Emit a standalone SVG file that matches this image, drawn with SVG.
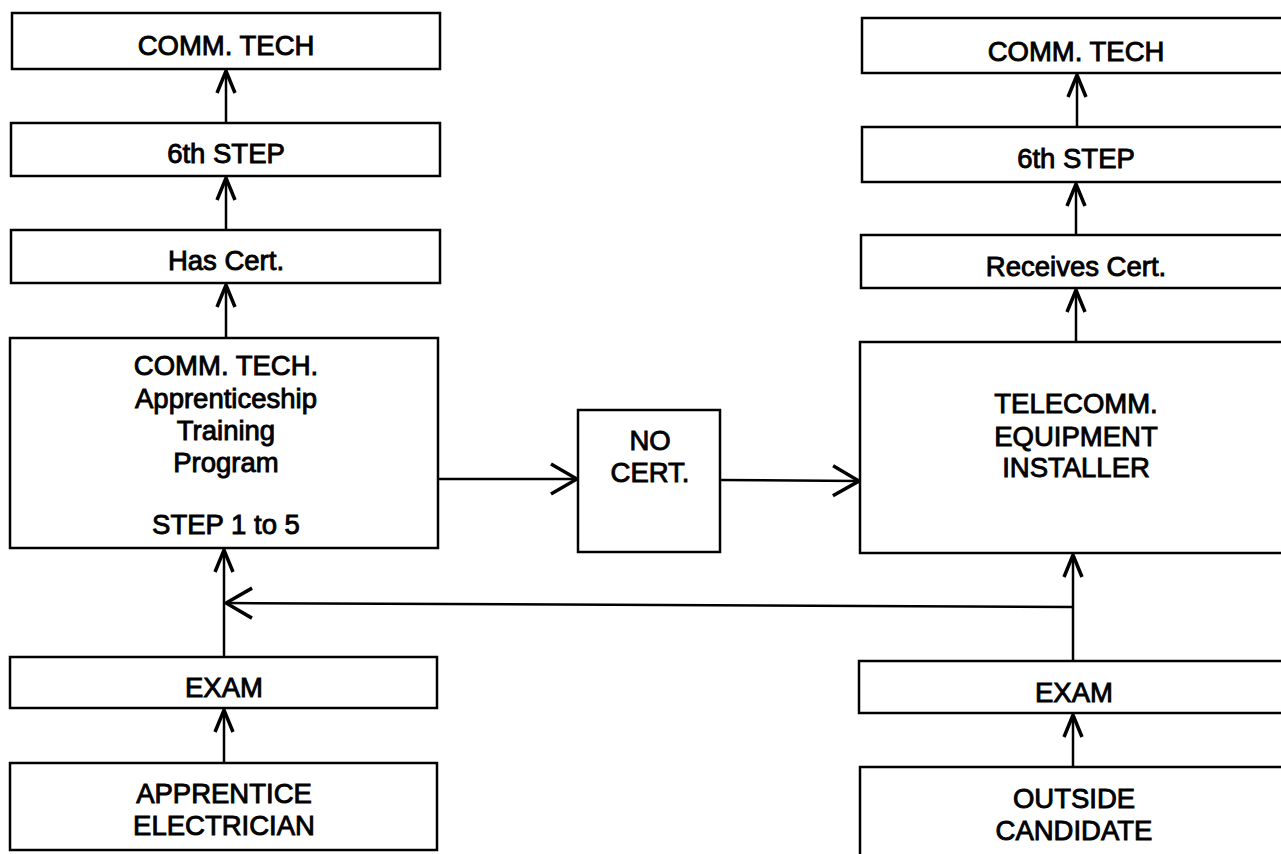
<svg xmlns="http://www.w3.org/2000/svg" width="1281" height="854" viewBox="0 0 1281 854">
<style>
.box{fill:#fff;stroke:#000;stroke-width:2.5}
.t{font-family:"Liberation Sans",Arial,sans-serif;font-size:27.5px;fill:#000;stroke:#000;stroke-width:0.9;text-anchor:middle}
.c{fill:none;stroke:#000;stroke-width:2.5}
</style>
<defs>
<marker id="ah" markerUnits="userSpaceOnUse" viewBox="-30 -15 32 30" refX="0" refY="0" markerWidth="32" markerHeight="30" orient="auto">
<path d="M-22,-9 L0,0 L-22,9" fill="none" stroke="#000" stroke-width="3.5" stroke-linejoin="miter"/>
</marker>
<marker id="ahL" markerUnits="userSpaceOnUse" viewBox="-30 -20 32 40" refX="0" refY="0" markerWidth="32" markerHeight="40" orient="auto">
<path d="M-26,-15 L0,0 L-26,15" fill="none" stroke="#000" stroke-width="3.5" stroke-linejoin="miter"/>
</marker>
</defs>
<rect width="1281" height="854" fill="#fff"/>

<g id="connectors">
<line class="c" x1="226" y1="123" x2="226" y2="71" marker-end="url(#ah)"/>
<line class="c" x1="226" y1="230" x2="226" y2="178" marker-end="url(#ah)"/>
<line class="c" x1="226" y1="338" x2="226" y2="285" marker-end="url(#ah)"/>
<line class="c" x1="224" y1="657" x2="224" y2="550" marker-end="url(#ah)"/>
<line class="c" x1="224" y1="763" x2="224" y2="710" marker-end="url(#ah)"/>
<line class="c" x1="438" y1="479" x2="577" y2="479" marker-end="url(#ahL)"/>
<line class="c" x1="720" y1="480" x2="859" y2="481" marker-end="url(#ahL)"/>
<line class="c" x1="1073" y1="607" x2="226" y2="603" marker-end="url(#ahL)"/>
<line class="c" x1="1077" y1="127" x2="1077" y2="75" marker-end="url(#ah)"/>
<line class="c" x1="1076" y1="235" x2="1076" y2="184" marker-end="url(#ah)"/>
<line class="c" x1="1076" y1="342" x2="1076" y2="290" marker-end="url(#ah)"/>
<line class="c" x1="1073" y1="661" x2="1073" y2="555" marker-end="url(#ah)"/>
<line class="c" x1="1073" y1="767" x2="1073" y2="715" marker-end="url(#ah)"/>
</g>

<g id="l-commtech"><rect class="box" x="12" y="13" width="428" height="56"/><text class="t" x="226" y="55">COMM. TECH</text></g>
<g id="l-6th"><rect class="box" x="11" y="123" width="429" height="53"/><text class="t" x="226" y="163">6th STEP</text></g>
<g id="l-hascert"><rect class="box" x="11" y="230" width="429" height="53"/><text class="t" x="226" y="270">Has Cert.</text></g>
<g id="l-program"><rect class="box" x="10" y="338" width="428" height="210"/>
<text class="t" x="226" y="375">COMM. TECH.</text>
<text class="t" x="226" y="408">Apprenticeship</text>
<text class="t" x="226" y="440">Training</text>
<text class="t" x="226" y="472">Program</text>
<text class="t" x="226" y="534">STEP 1 to 5</text></g>
<g id="l-exam"><rect class="box" x="10" y="657" width="427" height="51"/><text class="t" x="224" y="697">EXAM</text></g>
<g id="l-apprentice"><rect class="box" x="10" y="763" width="427" height="87"/>
<text class="t" x="224" y="803">APPRENTICE</text>
<text class="t" x="224" y="835">ELECTRICIAN</text></g>

<g id="nocert"><rect class="box" x="578" y="410" width="142" height="142"/>
<text class="t" x="650" y="450">NO</text>
<text class="t" x="650" y="482">CERT.</text></g>

<g id="r-commtech"><rect class="box" x="862" y="18" width="430" height="55"/><text class="t" x="1076" y="61">COMM. TECH</text></g>
<g id="r-6th"><rect class="box" x="862" y="127" width="430" height="55"/><text class="t" x="1076" y="168">6th STEP</text></g>
<g id="r-receives"><rect class="box" x="861" y="235" width="431" height="53"/><text class="t" x="1076" y="276">Receives Cert.</text></g>
<g id="r-installer"><rect class="box" x="860" y="342" width="432" height="211"/>
<text class="t" x="1076" y="413">TELECOMM.</text>
<text class="t" x="1076" y="446">EQUIPMENT</text>
<text class="t" x="1076" y="477">INSTALLER</text></g>
<g id="r-exam"><rect class="box" x="859" y="661" width="433" height="52"/><text class="t" x="1074" y="702">EXAM</text></g>
<g id="r-outside"><rect class="box" x="860" y="767" width="432" height="100"/>
<text class="t" x="1074" y="808">OUTSIDE</text>
<text class="t" x="1074" y="840">CANDIDATE</text></g>
</svg>
